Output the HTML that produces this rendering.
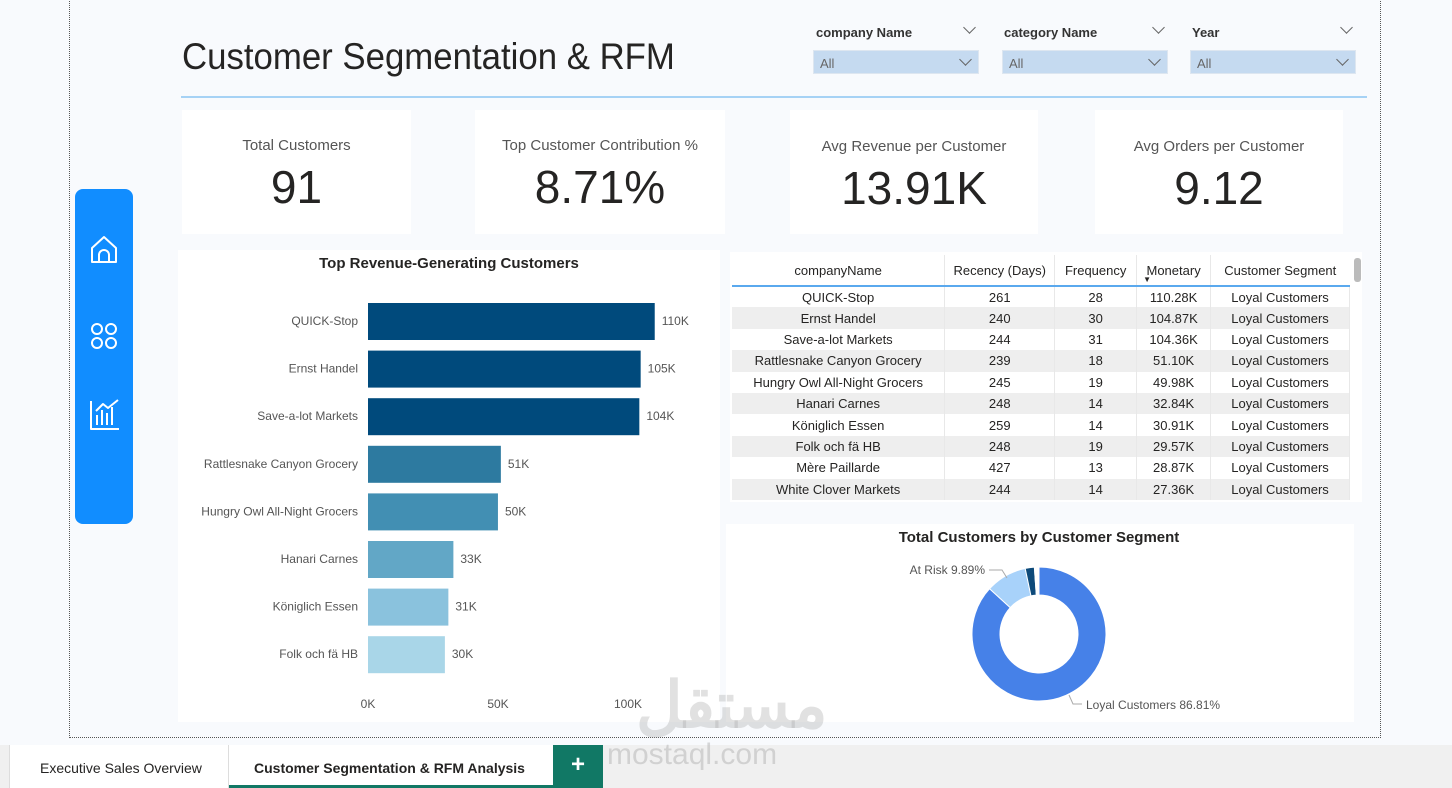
<!DOCTYPE html>
<html><head><meta charset="utf-8">
<style>
*{box-sizing:border-box;margin:0;padding:0}
body{width:1452px;height:788px;overflow:hidden;background:#f8fafd;font-family:"Liberation Sans",sans-serif;position:relative;color:#252423}
.abs{position:absolute}
.card{position:absolute;background:#fff}
.kl{position:absolute;left:0;right:0;text-align:center;font-size:15px;color:#555}
.kv{position:absolute;left:0;right:0;text-align:center;font-size:46px;color:#252423}
.flab{position:absolute;font-size:13px;font-weight:bold;color:#333}
.fbox{position:absolute;height:24px;background:#c5daf0;border:1px solid #dde6f0;font-size:13px;color:#666;padding:5px 6px}
.chev{position:absolute;width:9px;height:9px;border-right:1.3px solid #666;border-bottom:1.3px solid #666;transform:rotate(45deg)}
table{border-collapse:collapse;font-size:13px}
td,th{text-align:center;font-weight:normal;height:21.4px;padding:0;border-right:1px solid #e8e8e8}
</style></head><body>
<div class="abs" style="left:69px;top:-2px;width:1312px;height:740px;border:1.5px dotted #555"></div>

<div class="abs" style="left:182px;top:36px;font-size:37px;color:#252423;transform:scaleX(0.94);transform-origin:0 0">Customer Segmentation &amp; RFM</div>
<div class="abs" style="left:181px;top:96px;width:1186px;height:2px;background:#a6d2f5"></div>

<div>
<div class="flab" style="left:816px;top:25px">company Name</div><div class="chev" style="left:965px;top:23px"></div>
<div class="fbox" style="left:813px;top:50px;width:166px">All<div class="chev" style="right:8px;top:4px"></div></div></div>
<div>
<div class="flab" style="left:1004px;top:25px">category Name</div><div class="chev" style="left:1154px;top:23px"></div>
<div class="fbox" style="left:1002px;top:50px;width:166px">All<div class="chev" style="right:8px;top:4px"></div></div></div>
<div>
<div class="flab" style="left:1192px;top:25px">Year</div><div class="chev" style="left:1342px;top:23px"></div>
<div class="fbox" style="left:1190px;top:50px;width:166px">All<div class="chev" style="right:8px;top:4px"></div></div></div>

<div class="card" style="left:182px;top:110px;width:229px;height:124px"><div class="kl" style="top:27px">Total Customers</div><div class="kv" style="top:50px">91</div></div>
<div class="card" style="left:475px;top:110px;width:250px;height:124px"><div class="kl" style="top:27px">Top Customer Contribution %</div><div class="kv" style="top:50px">8.71%</div></div>
<div class="card" style="left:790px;top:110px;width:248px;height:124px"><div class="kl" style="top:28px">Avg Revenue per Customer</div><div class="kv" style="top:51px">13.91K</div></div>
<div class="card" style="left:1095px;top:110px;width:248px;height:124px"><div class="kl" style="top:28px">Avg Orders per Customer</div><div class="kv" style="top:51px">9.12</div></div>

<div class="abs" style="left:75px;top:189px;width:58px;height:335px;background:#118dff;border-radius:8px">
<svg width="58" height="335" fill="none" stroke="#fff" stroke-width="2" stroke-linejoin="round">
<g><path d="M17 73 V59 L29 48 L41 59 V73 Z"/><path d="M24 73 V66 a5 5 0 0 1 10 0 V73"/></g>
<g><circle cx="22" cy="140" r="5"/><circle cx="36" cy="140" r="5"/><circle cx="22" cy="154" r="5"/><circle cx="36" cy="154" r="5"/></g>
<g><path d="M16 212 V240 H44"/><path d="M22 236 V226 M27 236 V221 M32 236 V224 M37 236 V218"/><path d="M21 222 L28 215 L33 219 L43 211"/></g>
</svg></div>

<div class="card" style="left:178px;top:250px;width:542px;height:472px"></div>
<svg class="abs" style="left:0;top:0" width="1452" height="788" id="bars">
<text x="449" y="268" text-anchor="middle" font-size="15" font-weight="bold" fill="#252423" font-family="Liberation Sans">Top Revenue-Generating Customers</text>
</svg>

<div class="card" style="left:730px;top:252px;width:632px;height:250px"></div>
<table class="abs" style="left:732px;top:255px;width:618px">
<colgroup><col style="width:213px"><col style="width:110px"><col style="width:82px"><col style="width:74px"><col style="width:139px"></colgroup>
<thead><tr style="height:31px;border-bottom:2px solid #5aa9ee"><th>companyName</th><th>Recency (Days)</th><th>Frequency</th><th style="position:relative">Monetary<span style="position:absolute;left:6px;bottom:1px;font-size:8px">▼</span></th><th style="border-right:none">Customer Segment</th></tr></thead>
<tbody id="tb"></tbody></table>
<div class="abs" style="left:1354px;top:258px;width:7px;height:24px;background:#bbb;border-radius:3px"></div>

<div class="card" style="left:726px;top:524px;width:628px;height:198px"></div>
<svg class="abs" style="left:0;top:0" width="1452" height="788" id="donut">
<text x="1039" y="542" text-anchor="middle" font-size="15" font-weight="bold" fill="#252423" font-family="Liberation Sans">Total Customers by Customer Segment</text>
</svg>

<div class="abs" style="left:0;top:745px;width:1452px;height:43px;background:#f0f0f0"></div>
<div class="abs" style="left:9px;top:745px;width:220px;height:43px;background:#fff;border-left:1px solid #ddd;border-right:1px solid #ddd;font-size:14px;padding:15px 0 0 30px">Executive Sales Overview</div>
<div class="abs" style="left:229px;top:745px;width:324px;height:43px;background:#fff;border-bottom:3px solid #117865;font-size:14px;font-weight:bold;padding:15px 0 0 25px">Customer Segmentation &amp; RFM Analysis</div>
<div class="abs" style="left:553px;top:745px;width:50px;height:43px;background:#117865;color:#fff;font-size:24px;font-weight:bold;text-align:center;line-height:40px">+</div>

<div class="abs" style="left:636px;top:668px;font-size:64px;font-weight:bold;color:rgba(170,170,170,0.35);font-family:'Liberation Sans','Noto Sans CJK SC',sans-serif">مستقل</div>
<div class="abs" style="left:607px;top:738px;font-size:30px;color:rgba(170,170,170,0.45)">mostaql.com</div>

<script>
const customers=["QUICK-Stop","Ernst Handel","Save-a-lot Markets","Rattlesnake Canyon Grocery","Hungry Owl All-Night Grocers","Hanari Carnes","Königlich Essen","Folk och fä HB"];
const revenue=[110.28,104.87,104.36,51.10,49.98,32.84,30.91,29.57];
const revLabels=["110K","105K","104K","51K","50K","33K","31K","30K"];
const xTicks=[0,50,100];
const barColors=["#004a7c","#004a7c","#004a7c","#2d7aa0","#428fb3","#62a7c6","#8ac2dd","#a9d6e8"];
const NS="http://www.w3.org/2000/svg";
function xs(v){return 368+v*2.6;}
function ys(i){return 303+i*47.6;}
const bs=document.getElementById('bars');
function mk(p,tag,at,txt){const e=document.createElementNS(NS,tag);for(const k in at)e.setAttribute(k,at[k]);if(txt!=null)e.textContent=txt;p.appendChild(e);return e;}
customers.forEach((c,i)=>{
 const r=mk(bs,'rect',{x:xs(0),y:ys(i),width:xs(revenue[i])-xs(0),height:37,fill:barColors[i]});
 
 
 const l=mk(bs,'text',{x:358,y:ys(i)+22,'text-anchor':'end','font-size':12,fill:'#555','font-family':'Liberation Sans'},c);
 
 
 const v=mk(bs,'text',{x:xs(revenue[i])+7,y:ys(i)+22,'font-size':12,fill:'#555','font-family':'Liberation Sans'},revLabels[i]);
 
 
});
xTicks.forEach(t=>{
 const e=mk(bs,'text',{x:xs(t),y:708,'text-anchor':'middle','font-size':12,fill:'#555','font-family':'Liberation Sans'},t+'K');
 
 
});

const tNames=["QUICK-Stop","Ernst Handel","Save-a-lot Markets","Rattlesnake Canyon Grocery","Hungry Owl All-Night Grocers","Hanari Carnes","Königlich Essen","Folk och fä HB","Mère Paillarde","White Clover Markets"];
const tRecency=[261,240,244,239,245,248,259,248,427,244];
const tFreq=[28,30,31,18,19,14,14,19,13,14];
const tMon=["110.28K","104.87K","104.36K","51.10K","49.98K","32.84K","30.91K","29.57K","28.87K","27.36K"];
const tb=document.getElementById('tb');
tNames.forEach((n,i)=>{
 const tr=document.createElement('tr');
 
 
 if(i%2)tr.style.background='#eeeeee';
 [n,tRecency[i],tFreq[i],tMon[i],'Loyal Customers'].forEach(v=>{const td=document.createElement('td');td.textContent=v;tr.appendChild(td);});
 tb.appendChild(tr);
});

const segNames=["Loyal Customers","At Risk","Other","Lost"];
const segPct=[86.81,9.89,2.2,1.1];
const segColors=["#4681e8","#a8d2fa","#0d4a7a","#ffffff"];
const dn=document.getElementById('donut');
const cx=1039,cy=634,R=67,r0=39;
let a=0;
function pt(rad,ang){const t=ang/100*2*Math.PI;return[cx+rad*Math.sin(t),cy-rad*Math.cos(t)];}
segPct.forEach((p,i)=>{
 const a1=a+p,lg=p>50?1:0;
 const [x0,y0]=pt(R,a),[x1,y1]=pt(R,a1),[x2,y2]=pt(r0,a1),[x3,y3]=pt(r0,a);
 const e=mk(dn,'path',{d:`M${x0},${y0} A${R},${R} 0 ${lg} 1 ${x1},${y1} L${x2},${y2} A${r0},${r0} 0 ${lg} 0 ${x3},${y3} Z`,fill:segColors[i],stroke:'#fff','stroke-width':1});
 
 
 a=a1;
});
mk(dn,'polyline',{points:'989,570 1002,570 1007,578',fill:'none',stroke:'#aaa'});
mk(dn,'polyline',{points:'1069,695 1073,704 1082,704',fill:'none',stroke:'#aaa'});
const l1=mk(dn,'text',{x:985,y:574,'text-anchor':'end','font-size':12,fill:'#555','font-family':'Liberation Sans'},segNames[1]+' '+segPct[1]+'%');


const l2=mk(dn,'text',{x:1086,y:709,'font-size':12,fill:'#555','font-family':'Liberation Sans'},segNames[0]+' '+segPct[0]+'%');


</script>
</body></html>
